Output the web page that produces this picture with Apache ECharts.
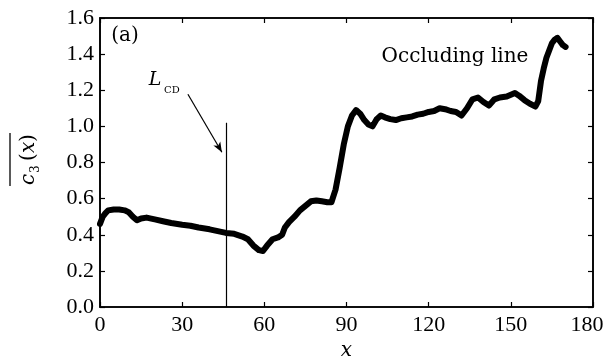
<!DOCTYPE html>
<html><head><meta charset="utf-8">
<script src="https://cdn.jsdelivr.net/npm/echarts@6/dist/echarts.min.js"></script>
<style>html,body{margin:0;padding:0;background:#fff}#c{width:604px;height:359px}</style>
</head><body><div id="c"></div>
<script>
// position along the line (x)
const xValues = [0, 1, 2, 3, 5, 7, 9, 10.5, 12, 13.5, 15, 17, 20, 23, 26, 30, 33, 36, 40, 43, 46, 49, 52, 54, 56, 58, 59.5, 61, 63, 65, 66.5, 67.5, 69, 71, 73, 75, 77, 79, 81, 83, 84.5, 86, 87.5, 89, 90.5, 92, 93.5, 95, 96.5, 98, 99.5, 101, 102.5, 104, 106, 108, 110, 112, 114, 116, 118, 120, 122, 124, 126, 128, 130, 132, 134, 136, 138, 140, 142, 144, 146, 148.5, 151.5, 153, 155, 157, 159, 160, 161, 162, 163, 164, 165, 166, 167, 168, 169, 170];
// mean c3(x)
const yValues = [0.46, 0.50, 0.52, 0.535, 0.54, 0.54, 0.535, 0.525, 0.50, 0.48, 0.49, 0.495, 0.485, 0.475, 0.465, 0.455, 0.45, 0.44, 0.43, 0.42, 0.41, 0.405, 0.39, 0.375, 0.34, 0.315, 0.31, 0.34, 0.375, 0.385, 0.40, 0.44, 0.47, 0.50, 0.535, 0.56, 0.585, 0.59, 0.585, 0.58, 0.58, 0.65, 0.77, 0.90, 1.00, 1.06, 1.09, 1.07, 1.035, 1.01, 1.00, 1.04, 1.06, 1.05, 1.04, 1.035, 1.045, 1.05, 1.055, 1.065, 1.07, 1.08, 1.085, 1.10, 1.095, 1.085, 1.08, 1.06, 1.10, 1.15, 1.16, 1.135, 1.115, 1.15, 1.16, 1.165, 1.185, 1.17, 1.145, 1.125, 1.11, 1.14, 1.25, 1.32, 1.38, 1.42, 1.46, 1.48, 1.49, 1.47, 1.45, 1.44];
const xTickInterval = 30;
const yTickInterval = 0.2;
const xMax = 180;
const yMax = 1.6;
const cdLineX = 46;
const cdLineTop = 1.02;
const arrowFrom = [32.1, 1.178];
const arrowTo = [44.5, 0.857];

const G = {left: 100, top: 18, width: 493, height: 289};
const chart = echarts.init(document.getElementById('c'), null, {renderer: 'canvas'});
const axisLine = () => ({show: true, onZero: false, lineStyle: {color: '#000000', width: 1.6}});
const tick = () => ({show: true, inside: true, length: 5, lineStyle: {color: '#000000', width: 1.2}});
const data = xValues.map((x, i) => [x, yValues[i]]);

chart.setOption({
  animation: false,
  grid: {left: G.left, top: G.top, width: G.width, height: G.height, outerBoundsMode: 'none'},
  xAxis: [
    {type: 'value', min: 0, max: xMax, interval: xTickInterval, position: 'bottom',
     axisLine: axisLine(), axisTick: tick(),
     axisLabel: {margin: 7, color: '#000', fontFamily: 'Liberation Serif', fontSize: 22,
       formatter: v => v === xMax ? '{r|' + v + '}' : String(v),
       rich: {r: {fontFamily: 'Liberation Serif', fontSize: 22, color: '#000', padding: [0, 12, 0, 0]}}},
     splitLine: {show: false},
     name: 'x', nameLocation: 'middle', nameGap: 31,
     nameTextStyle: {fontFamily: 'DejaVu Serif', fontStyle: 'italic', fontSize: 20, color: '#000'}},
    {type: 'value', min: 0, max: xMax, interval: xTickInterval, position: 'top',
     axisLine: axisLine(), axisTick: tick(),
     axisLabel: {show: false}, splitLine: {show: false}}
  ],
  yAxis: [
    {type: 'value', min: 0, max: yMax, interval: yTickInterval, position: 'left',
     axisLine: axisLine(), axisTick: tick(),
     axisLabel: {margin: 6, color: '#000', fontFamily: 'Liberation Serif', fontSize: 22, formatter: v => v.toFixed(1)},
     splitLine: {show: false}},
    {type: 'value', min: 0, max: yMax, interval: yTickInterval, position: 'right',
     axisLine: axisLine(), axisTick: tick(),
     axisLabel: {show: false}, splitLine: {show: false}}
  ],
  series: [{
    type: 'line', xAxisIndex: 0, yAxisIndex: 0, data: data,
    symbol: 'none', smooth: false,
    lineStyle: {color: '#000', width: 6, join: 'round', cap: 'round'},
    markLine: {
      silent: true, symbol: ['none', 'none'],
      label: {show: false},
      lineStyle: {color: '#000', width: 1.2, type: 'solid'},
      data: [
        [{coord: [cdLineX, 0]}, {coord: [cdLineX, cdLineTop]}],
        [{coord: arrowFrom}, {coord: arrowTo, symbol: 'arrow', symbolSize: [6, 10]}]
      ]
    }
  }, {
    type: 'line', xAxisIndex: 1, yAxisIndex: 1, data: [], silent: true, symbol: 'none'
  }],
  graphic: [
    {type: 'rect', silent: true, z: 50, shape: {x: G.left, y: G.top, width: G.width, height: G.height},
     style: {fill: 'none', stroke: '#000', lineWidth: 1.6}},
    {type: 'text', x: 125, y: 36, style: {text: '(a)', font: '20px "DejaVu Serif"', fill: '#000', textAlign: 'center', textVerticalAlign: 'middle', align: 'center', verticalAlign: 'middle'}},
    {type: 'text', x: 455, y: 57, style: {text: 'Occluding line', font: '20px "DejaVu Serif"', fill: '#000', textAlign: 'center', textVerticalAlign: 'middle', align: 'center', verticalAlign: 'middle'}},
    {type: 'text', x: 155, y: 80, style: {text: 'L', font: 'italic 19px "DejaVu Serif"', fill: '#000', textAlign: 'center', textVerticalAlign: 'middle', align: 'center', verticalAlign: 'middle'}},
    {type: 'text', x: 164, y: 90, style: {text: 'CD', font: '10px "DejaVu Serif"', fill: '#000', textAlign: 'left', textVerticalAlign: 'middle', align: 'left', verticalAlign: 'middle'}},
    {type: 'group', x: 35, y: 159, rotation: Math.PI / 2, children: [
      {type: 'text', x: -26, y: -6, style: {text: 'c', font: 'italic 20px "DejaVu Serif"', fill: '#000', textAlign: 'left', textVerticalAlign: 'middle', align: 'left', verticalAlign: 'middle'}},
      {type: 'text', x: -14, y: 1, style: {text: '3', font: '12px "DejaVu Serif"', fill: '#000', textAlign: 'left', textVerticalAlign: 'middle', align: 'left', verticalAlign: 'middle'}},
      {type: 'text', x: -2, y: -6, style: {text: '(', font: '20px "DejaVu Serif"', fill: '#000', textAlign: 'left', textVerticalAlign: 'middle', align: 'left', verticalAlign: 'middle'}},
      {type: 'text', x: 6, y: -6, style: {text: 'x', font: 'italic 20px "DejaVu Serif"', fill: '#000', textAlign: 'left', textVerticalAlign: 'middle', align: 'left', verticalAlign: 'middle'}},
      {type: 'text', x: 17, y: -6, style: {text: ')', font: '20px "DejaVu Serif"', fill: '#000', textAlign: 'left', textVerticalAlign: 'middle', align: 'left', verticalAlign: 'middle'}},
      {type: 'line', shape: {x1: -27, y1: -25, x2: 26, y2: -25}, style: {stroke: '#000', lineWidth: 1.3}}
    ]}
  ]
});
</script>
</body></html>
